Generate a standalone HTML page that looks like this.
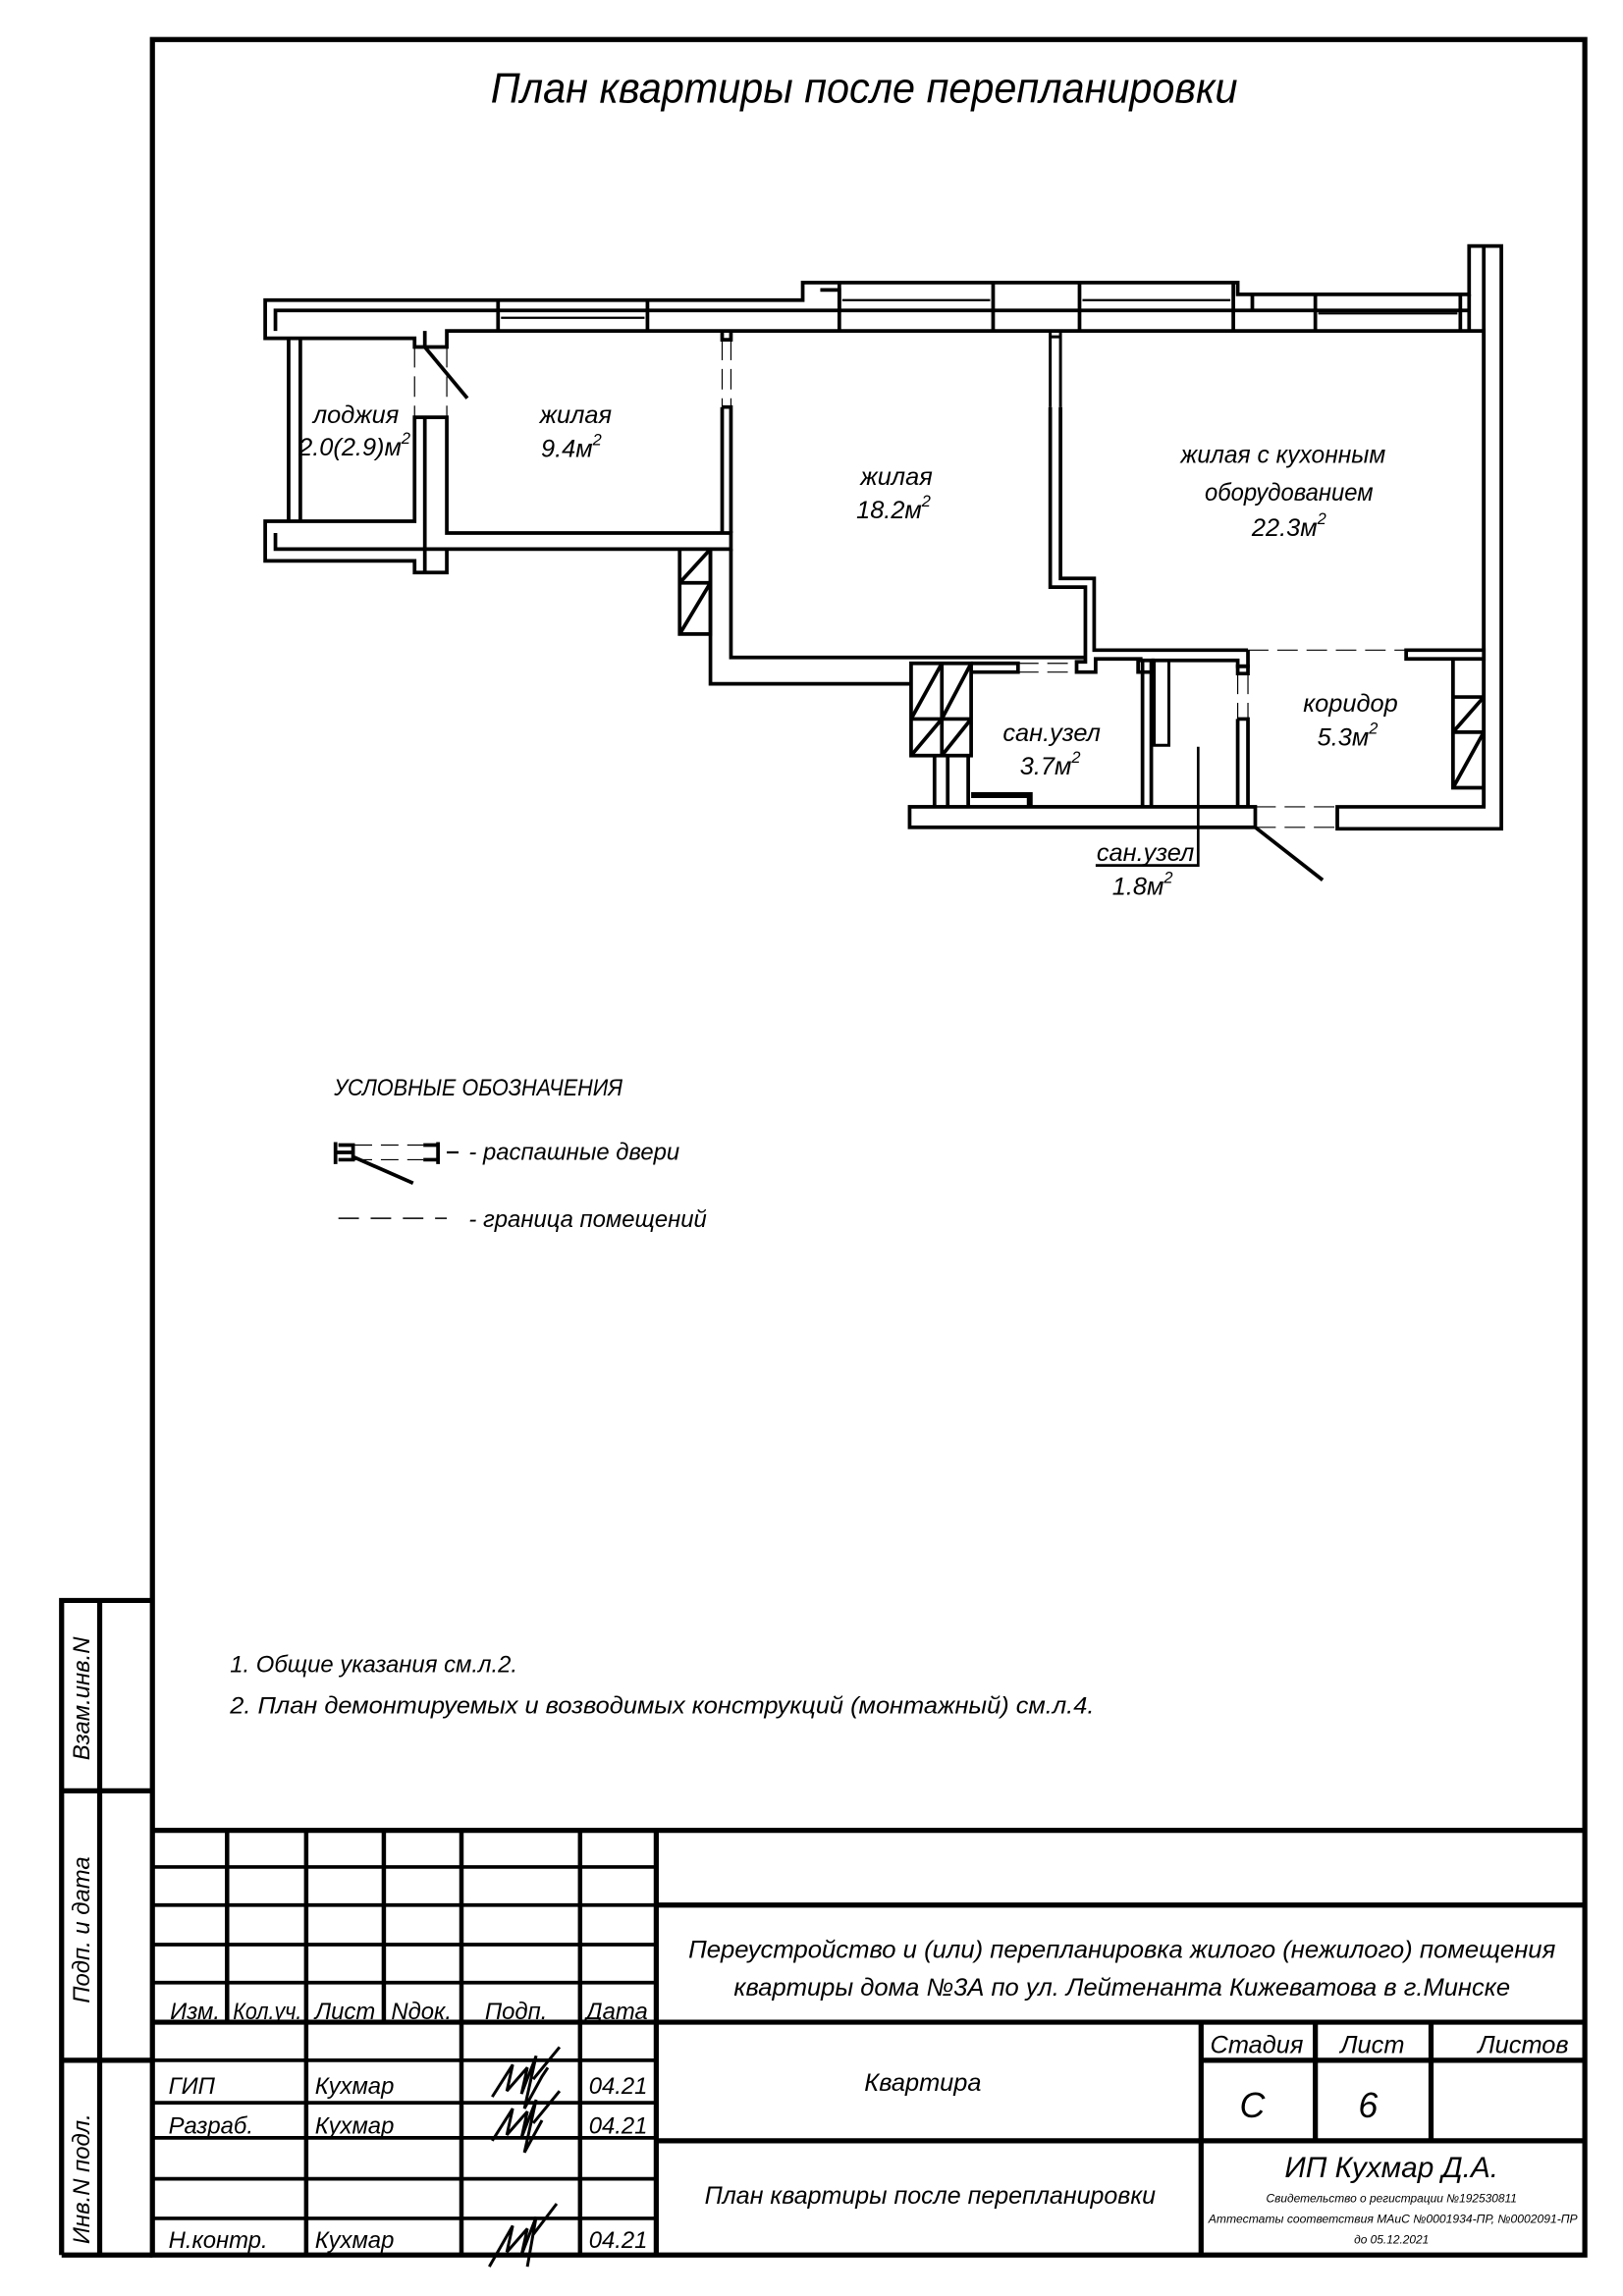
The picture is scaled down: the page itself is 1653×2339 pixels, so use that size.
<!DOCTYPE html>
<html><head><meta charset="utf-8"><style>
html,body{margin:0;padding:0;background:#fff}
svg{display:block}
text{font-family:"Liberation Sans Narrow","Liberation Sans",sans-serif;font-style:italic;fill:#000}
</style></head><body>
<svg width="1653" height="2339" viewBox="0 0 1108 1568" xmlns="http://www.w3.org/2000/svg">
<rect width="1108" height="1568" fill="#fff"/>
<!-- outer frame -->
<g fill="none" stroke="#000" stroke-width="3.5">
<rect x="104" y="27" width="978" height="1513"/>
<path d="M42,1540 V1093 H104 M68,1093 V1540 M42,1223 H104 M42,1407 H104 M42,1540 H104"/>
<!-- title block -->
<path d="M104,1250 H1082 M448,1250 V1540 M448,1301 H1082 M104,1381 H1082 M448,1462 H1082 M820,1381 V1540 M820,1407 H1082 M898,1381 V1462 M977,1381 V1462"/>
<path d="M155,1250 V1381 M209,1250 V1540 M262,1250 V1381 M315,1250 V1540 M396,1250 V1540" stroke-width="3"/>
</g>
<g stroke="#000" stroke-width="2.5" fill="none">
<path d="M104,1275 H448 M104,1301 H448 M104,1328 H448 M104,1354 H448 M104,1407 H448 M104,1436 H448 M104,1460 H448 M104,1488 H448 M104,1515 H448"/>
</g>
<!-- title -->
<text x="590" y="70" font-size="29" text-anchor="middle" textLength="510" lengthAdjust="spacingAndGlyphs">План квартиры после перепланировки</text>

<!-- floor plan -->
<g fill="none" stroke="#000" stroke-width="2.5">
<!-- top wall -->
<path d="M181,205 H548 V193 H845 V201 H1003 V168 H1025 V566 H913 V551 H1013 V226 H305 V237 H283 V231 H181 Z" fill="#fff"/>
<path d="M188,226 V212 H1003 M1013,168 V551 M1003,201 V226"/>
<path d="M340,205 V226 M442,205 V226 M573,193 V226 M678,193 V226 M737,193 V226 M842,193 V226 M898,201 V226 M997,201 V226"/>
<path d="M560,198 H573 V212 M855,201 V212" />
<path d="M342,217 H440 M575,205 H676 M739,205 H840 M900,214 H995" stroke-width="1.5"/>
<!-- loggia -->
<path d="M197,231 V356 M205,231 V356"/>
<path d="M181,356 H283 V285 H305 V364 H499 V375 H305 V391 H283 V383 H181 Z" fill="#fff"/>
<path d="M188,364 V375 H305 M290,285 V391 M290,226 V237"/>
<path d="M290,237 L319,272" stroke-width="2.5"/>
<path d="M283,237 V285 M305,237 V285" stroke-width="0.8" stroke-dasharray="14,6"/>
<!-- wall 9.4 / 18.2 -->
<path d="M493,226 V232 H499 V226 M493,278 H499 V364 M493,278 V364"/>
<path d="M493,232 V278 M499,232 V278" stroke-width="0.8" stroke-dasharray="14,6"/>
<!-- shaft left -->
<rect x="464" y="375" width="21" height="58" fill="#fff"/>
<path d="M464,398 H485 M464,398 L485,375 M464,433 L485,398"/>
<path d="M485,375 V467 H622 M499,375 V449 H741 V401 H717 V278 M724,278 V395 H747 V444 H852 M741,449 V452 H735 V459 H748 V450 H780"/>
<path d="M717,226 V230 H724 V226 M717,230 V278 M724,230 V278" stroke-width="2"/>
<path d="M852,444 V455 H845 V451 H786"/>
<!-- dashed boundaries -->
<path d="M695,453 H735 M695,459 H735" stroke-width="0.8" stroke-dasharray="14,6"/>
<path d="M852,444 H960" stroke-width="0.8" stroke-dasharray="14,6"/>
<path d="M960,444 H1013 V450 H960 Z" fill="#fff"/>
<!-- shaft 3.7 -->
<rect x="622" y="453" width="41" height="63" fill="#fff"/>
<path d="M643,453 V516 M622,491 H663 M622,491 L643,453 M643,491 L663,453 M622,516 L643,491 M643,516 L663,491"/>
<path d="M638,516 V551 M647,516 V551 M661,516 V551 M663,453 H695 V459 H663"/>
<!-- bottom walls -->
<rect x="621" y="551" width="236" height="14" fill="#fff"/>
<path d="M857,551 H913 M857,565 H913" stroke-width="0.8" stroke-dasharray="14,6"/>
<path d="M857,565 L903,601"/>
<path d="M663,543 H703 V551" stroke-width="4"/>
<!-- partition 1.8 -->
<path d="M780,451 H786 V551 M780,451 V551 M777,451 H787 V459 H777 Z"/>
<path d="M788,451 V509 H798 V451" stroke-width="2"/>
<path d="M845,455 H852 V460 H845 Z M845,491 H852 V551 M845,491 V551"/>
<path d="M845,460 V491 M852,460 V491" stroke-width="0.8" stroke-dasharray="14,6"/>
<!-- corridor shaft -->
<path d="M992,450 V538 H1013 M992,476 H1013 M992,500 H1013 M992,500 L1013,476 M992,538 L1013,500"/>
<!-- leader -->
<path d="M818,510 V591 H748" stroke-width="1.8"/>
</g>
<!-- room labels -->
<g font-size="17" text-anchor="middle">
<text x="243" y="289">лоджия</text>
<text x="242" y="311">2.0(2.9)м<tspan dy="-8" font-size="11">2</tspan></text>
<text x="393" y="289">жилая</text>
<text x="390" y="312">9.4м<tspan dy="-8" font-size="11">2</tspan></text>
<text x="612" y="331">жилая</text>
<text x="610" y="354">18.2м<tspan dy="-8" font-size="11">2</tspan></text>
<text x="876" y="316" textLength="140" lengthAdjust="spacingAndGlyphs">жилая с кухонным</text>
<text x="880" y="342" textLength="115" lengthAdjust="spacingAndGlyphs">оборудованием</text>
<text x="880" y="366">22.3м<tspan dy="-8" font-size="11">2</tspan></text>
<text x="922" y="486">коридор</text>
<text x="920" y="509">5.3м<tspan dy="-8" font-size="11">2</tspan></text>
<text x="718" y="506">сан.узел</text>
<text x="717" y="529">3.7м<tspan dy="-8" font-size="11">2</tspan></text>
<text x="782" y="588">сан.узел</text>
<text x="780" y="611">1.8м<tspan dy="-8" font-size="11">2</tspan></text>
</g>
<!-- legend -->
<text x="228" y="748" font-size="16" textLength="197" lengthAdjust="spacingAndGlyphs">УСЛОВНЫЕ ОБОЗНАЧЕНИЯ</text>
<g fill="none" stroke="#000" stroke-width="2.5">
<path d="M229,780 V795 M229,787 H242 M231,782 H241 V792 H231 M289,782 H299 V792 H289 M299,780 V795"/>
<path d="M241,790 L282,808"/>
<path d="M242,782 H289 M242,792 H289" stroke-width="0.8" stroke-dasharray="12,6"/>
<path d="M231,832 H305" stroke-width="1" stroke-dasharray="14,8"/>
<path d="M305,787 H313" stroke-width="1.5"/>
</g>
<text x="320" y="792" font-size="16">- распашные двери</text>
<text x="320" y="838" font-size="16">- граница помещений</text>
<!-- notes -->
<text x="157" y="1142" font-size="16">1. Общие указания см.л.2.</text>
<text x="157" y="1170" font-size="16" textLength="590" lengthAdjust="spacingAndGlyphs">2. План демонтируемых и возводимых конструкций (монтажный) см.л.4.</text>
<!-- left strip -->
<g font-size="16" text-anchor="middle">
<text transform="translate(61,1160) rotate(-90)">Взам.инв.N</text>
<text transform="translate(61,1318) rotate(-90)">Подп. и дата</text>
<text transform="translate(61,1488) rotate(-90)">Инв.N подл.</text>
</g>
<!-- title block texts -->
<g font-size="16">
<text x="116" y="1379">Изм.</text>
<text x="159" y="1379" textLength="47" lengthAdjust="spacingAndGlyphs">Кол.уч.</text>
<text x="215" y="1379">Лист</text>
<text x="267" y="1379">Nдок.</text>
<text x="331" y="1379">Подп.</text>
<text x="400" y="1379">Дата</text>
<text x="115" y="1430">ГИП</text>
<text x="215" y="1430">Кухмар</text>
<text x="402" y="1430">04.21</text>
<text x="115" y="1457">Разраб.</text>
<text x="215" y="1457">Кухмар</text>
<text x="402" y="1457">04.21</text>
<text x="115" y="1535">Н.контр.</text>
<text x="215" y="1535">Кухмар</text>
<text x="402" y="1535">04.21</text>
</g>
<g font-size="17" text-anchor="middle">
<text x="766" y="1337" textLength="592" lengthAdjust="spacingAndGlyphs">Переустройство и (или) перепланировка жилого (нежилого) помещения</text>
<text x="766" y="1363" textLength="530" lengthAdjust="spacingAndGlyphs">квартиры дома №3А по ул. Лейтенанта Кижеватова в г.Минске</text>
<text x="630" y="1428">Квартира</text>
<text x="858" y="1402">Стадия</text>
<text x="937" y="1402">Лист</text>
<text x="1040" y="1402">Листов</text>
<text x="855" y="1446" font-size="24">С</text>
<text x="934" y="1446" font-size="24">6</text>
<text x="635" y="1505" textLength="308" lengthAdjust="spacingAndGlyphs">План квартиры после перепланировки</text>
<text x="950" y="1487" font-size="20">ИП Кухмар Д.А.</text>
<text x="950" y="1504" font-size="8">Свидетельство о регистрации №192530811</text>
<text x="951" y="1518" font-size="8" textLength="252" lengthAdjust="spacingAndGlyphs">Аттестаты соответствия МАиС №0001934-ПР, №0002091-ПР</text>
<text x="950" y="1532" font-size="8">до 05.12.2021</text>
</g>
<!-- signatures -->
<g fill="none" stroke="#000" stroke-width="2">
<path d="M336,1432 L350,1410 L346,1428 L360,1412 L356,1430 L366,1404 L358,1440 L370,1418 L374,1412 M364,1420 L382,1398"/>
<path d="M336,1462 L350,1440 L346,1458 L360,1442 L356,1460 L366,1434 L358,1470 L370,1448 M364,1450 L382,1428"/>
<path d="M334,1548 L350,1520 L346,1538 L360,1522 L356,1540 L366,1514 L360,1548 M364,1526 L380,1505"/>
</g>
</svg>
</body></html>
